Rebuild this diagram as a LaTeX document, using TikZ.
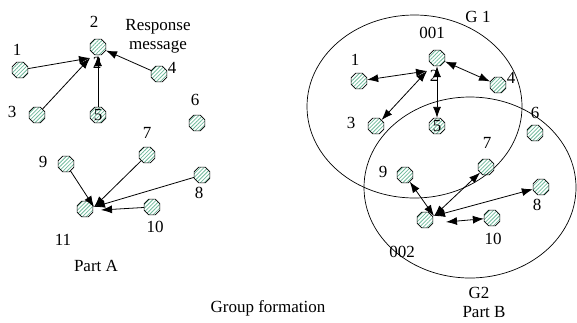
\documentclass[tikz,border=0pt]{standalone}
\usepackage{fontspec}
\setmainfont{Liberation Serif}
\usetikzlibrary{shapes.geometric,arrows.meta,patterns.meta}
\definecolor{hatch}{RGB}{112,186,156}
\tikzset{
  host/.style={regular polygon, regular polygon sides=8, minimum size=17pt,
    inner sep=0pt, draw=black, line width=0.6pt, fill=white,
    pattern={Lines[angle=45,distance=2.7pt,line width=0.8pt]}, pattern color=hatch},
  lbl/.style={inner sep=0pt, font=\fontsize{17}{19}\selectfont},
  tip/.style={},
  msg/.style={line width=0.8pt, -{Latex[length=11pt,width=8pt]}},
  link/.style={line width=0.8pt, {Latex[length=11pt,width=8pt]}-{Latex[length=11pt,width=8pt]}},
  group/.style={line width=0.7pt}
}
\begin{document}
\begin{tikzpicture}[x=1pt,y=-1pt]
\path[use as bounding box] (0,0) rectangle (577,322);

% ---------- Part A: nodes report to their leader ----------
\node[host] (a1) at (20,70) {};
\node[host] (a2) at (98,47) {};
\node[host] (a3) at (37,115) {};
\node[host] (a4) at (159,74) {};
\node[host] (a5) at (98,115) {};
\node[host] (a6) at (197,123) {};
\node[host] (a7) at (147,155) {};
\node[host] (a8) at (202,175) {};
\node[host] (a9) at (66,164) {};
\node[host] (a10) at (152,207) {};
\node[host] (a11) at (85,209) {};

\coordinate (a2hub) at (90,58);
\coordinate (a11hub) at (94,207);
\coordinate (a11e) at (101,210);

\draw[msg] (a1) -- (a2hub);
\draw[msg] (a3) -- (a2hub);
\draw[msg] (a5) -- (a2);
\draw[msg] (a4) -- (a2);
\draw[msg] (a9) -- (a11hub);
\draw[msg] (a7) -- (a11hub);
\draw[msg] (a8) -- (a11hub);
\draw[msg] (a10) -- (a11e);

\node[lbl] (la2) at (94,22) {2};
\node[lbl] (la2b) at (97,63) {2};
\node[lbl] (la1) at (17,50) {1};
\node[lbl] (la3) at (12,112) {3};
\node[lbl] (la4) at (172,68) {4};
\node[lbl] (la5) at (98,115) {5};
\node[lbl] (la6) at (195,100) {6};
\node[lbl] (la7) at (147,133) {7};
\node[lbl] (la8) at (199,193) {8};
\node[lbl] (la9) at (43,162) {9};
\node[lbl] (la10) at (155,227) {10};
\node[lbl] (la11) at (63,240) {11};
\node[lbl, align=center] (resp) at (158,36) {Response\\message};
\node[lbl] (partA) at (96,266) {Part A};

% ---------- Part B: two groups ----------
\draw[group] (414.5,106.5) ellipse [x radius=107.5pt, y radius=91.5pt];
\draw[group] (470,187.5) ellipse [x radius=106pt, y radius=90.5pt];

\node[host] (b1) at (359,81) {};
\node[host] (b2) at (437,58) {};
\node[host] (b3) at (376,126) {};
\node[host] (b4) at (498,85) {};
\node[host] (b5) at (437,126) {};
\node[host] (b6) at (535,133) {};
\node[host] (b7) at (486,167) {};
\node[host] (b8) at (541,187) {};
\node[host] (b9) at (405,175) {};
\node[host] (b10) at (492,218) {};
\node[host] (b11) at (425,220) {};

\coordinate (b2hub) at (427,71);
\coordinate (b11hub) at (434,216);
\coordinate (b11e) at (446,222);

\draw[link] (b1) -- (b2hub);
\draw[link] (b3) -- (b2hub);
\draw[link] (b5) -- (b2);
\draw[link] (b2) -- (b4);
\draw[link] (b9) -- (b11hub);
\draw[link] (b7) -- (b11hub);
\draw[link] (b8) -- (b11hub);
\draw[link] (b10) -- (b11e);

\node[lbl] (g1) at (478,17) {G 1};
\node[lbl] (lb001) at (432,33) {001};
\node[lbl] (lb2) at (434,76) {2};
\node[lbl] (lb1) at (355,60) {1};
\node[lbl] (lb4) at (511,78) {4};
\node[lbl] (lb3) at (351,123) {3};
\node[lbl] (lb5) at (437,126) {5};
\node[lbl] (lb6) at (535,113) {6};
\node[lbl] (lb7) at (487,143) {7};
\node[lbl] (lb9) at (383,172) {9};
\node[lbl] (lb8) at (537,205) {8};
\node[lbl] (lb10) at (493,239) {10};
\node[lbl] (lb002) at (402,252) {002};
\node[lbl] (g2) at (479,293) {G2};
\node[lbl] (partB) at (484,312) {Part B};

\node[lbl] (caption) at (268,308) {Group formation};
\end{tikzpicture}
\end{document}
